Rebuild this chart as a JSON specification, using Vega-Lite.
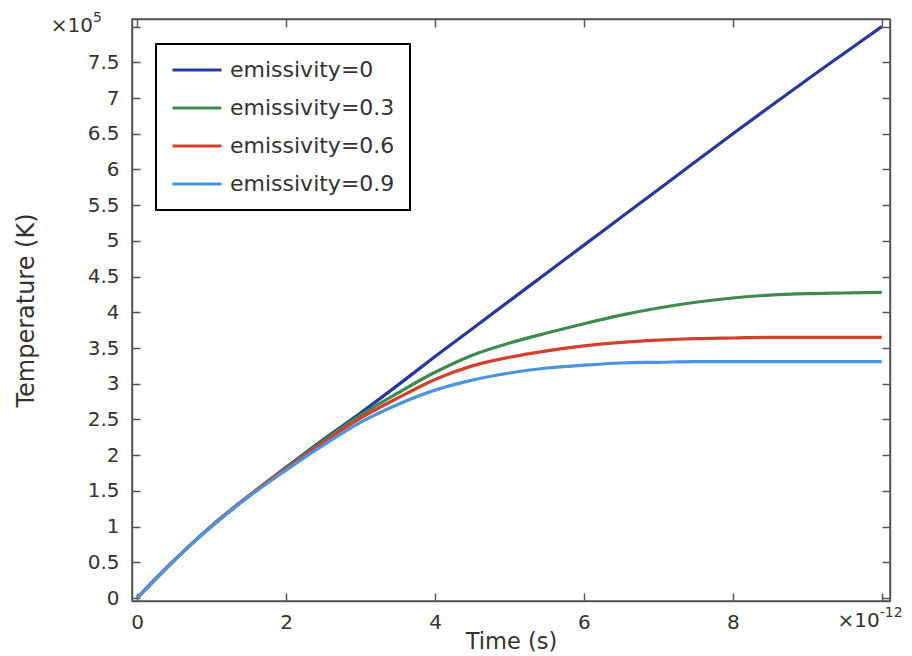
{
  "$schema": "https://vega.github.io/schema/vega-lite/v6.json",
  "width": 758,
  "height": 582,
  "autosize": {"type": "none"},
  "padding": {"left": 132, "top": 19, "right": 22, "bottom": 55},
  "background": "white",
  "config": {
    "font": "DejaVu Sans",
    "view": {"stroke": "#555", "strokeWidth": 1.5},
    "axis": {
      "domainColor": "#555", "domainWidth": 1.5, "tickColor": "#555", "tickWidth": 1.5,
      "labelFontSize": 20, "labelColor": "#333", "grid": false,
      "titleFontSize": 22, "titleFontWeight": "normal", "titleColor": "#333"
    },
    "legend": {"strokeWidth": 2}
  },
  "datasets": {
    "curves": [
      {"t": 0, "s": "emissivity=0", "T": 0}, {"t": 0.25, "s": "emissivity=0", "T": 0.27}, {"t": 0.5, "s": "emissivity=0", "T": 0.53}, {"t": 1, "s": "emissivity=0", "T": 1.01}, {"t": 1.5, "s": "emissivity=0", "T": 1.43}, {"t": 2, "s": "emissivity=0", "T": 1.83}, {"t": 2.5, "s": "emissivity=0", "T": 2.22}, {"t": 3, "s": "emissivity=0", "T": 2.59}, {"t": 3.5, "s": "emissivity=0", "T": 2.98}, {"t": 4, "s": "emissivity=0", "T": 3.38}, {"t": 4.5, "s": "emissivity=0", "T": 3.77}, {"t": 5, "s": "emissivity=0", "T": 4.16}, {"t": 5.5, "s": "emissivity=0", "T": 4.55}, {"t": 6, "s": "emissivity=0", "T": 4.94}, {"t": 6.5, "s": "emissivity=0", "T": 5.33}, {"t": 7, "s": "emissivity=0", "T": 5.72}, {"t": 7.5, "s": "emissivity=0", "T": 6.11}, {"t": 8, "s": "emissivity=0", "T": 6.5}, {"t": 8.5, "s": "emissivity=0", "T": 6.88}, {"t": 9, "s": "emissivity=0", "T": 7.26}, {"t": 9.5, "s": "emissivity=0", "T": 7.63}, {"t": 10, "s": "emissivity=0", "T": 8.0},
      {"t": 0, "s": "emissivity=0.3", "T": 0}, {"t": 0.25, "s": "emissivity=0.3", "T": 0.27}, {"t": 0.5, "s": "emissivity=0.3", "T": 0.53}, {"t": 1, "s": "emissivity=0.3", "T": 1.01}, {"t": 1.5, "s": "emissivity=0.3", "T": 1.43}, {"t": 2, "s": "emissivity=0.3", "T": 1.82}, {"t": 2.5, "s": "emissivity=0.3", "T": 2.2}, {"t": 3, "s": "emissivity=0.3", "T": 2.56}, {"t": 3.5, "s": "emissivity=0.3", "T": 2.87}, {"t": 4, "s": "emissivity=0.3", "T": 3.16}, {"t": 4.5, "s": "emissivity=0.3", "T": 3.4}, {"t": 5, "s": "emissivity=0.3", "T": 3.57}, {"t": 5.5, "s": "emissivity=0.3", "T": 3.71}, {"t": 6, "s": "emissivity=0.3", "T": 3.84}, {"t": 6.5, "s": "emissivity=0.3", "T": 3.96}, {"t": 7, "s": "emissivity=0.3", "T": 4.06}, {"t": 7.5, "s": "emissivity=0.3", "T": 4.14}, {"t": 8, "s": "emissivity=0.3", "T": 4.2}, {"t": 8.5, "s": "emissivity=0.3", "T": 4.24}, {"t": 9, "s": "emissivity=0.3", "T": 4.26}, {"t": 9.5, "s": "emissivity=0.3", "T": 4.27}, {"t": 10, "s": "emissivity=0.3", "T": 4.28},
      {"t": 0, "s": "emissivity=0.6", "T": 0}, {"t": 0.25, "s": "emissivity=0.6", "T": 0.27}, {"t": 0.5, "s": "emissivity=0.6", "T": 0.53}, {"t": 1, "s": "emissivity=0.6", "T": 1.01}, {"t": 1.5, "s": "emissivity=0.6", "T": 1.43}, {"t": 2, "s": "emissivity=0.6", "T": 1.81}, {"t": 2.5, "s": "emissivity=0.6", "T": 2.18}, {"t": 3, "s": "emissivity=0.6", "T": 2.52}, {"t": 3.5, "s": "emissivity=0.6", "T": 2.8}, {"t": 4, "s": "emissivity=0.6", "T": 3.06}, {"t": 4.5, "s": "emissivity=0.6", "T": 3.25}, {"t": 5, "s": "emissivity=0.6", "T": 3.37}, {"t": 5.5, "s": "emissivity=0.6", "T": 3.46}, {"t": 6, "s": "emissivity=0.6", "T": 3.53}, {"t": 6.5, "s": "emissivity=0.6", "T": 3.58}, {"t": 7, "s": "emissivity=0.6", "T": 3.61}, {"t": 7.5, "s": "emissivity=0.6", "T": 3.63}, {"t": 8, "s": "emissivity=0.6", "T": 3.64}, {"t": 8.5, "s": "emissivity=0.6", "T": 3.65}, {"t": 9, "s": "emissivity=0.6", "T": 3.65}, {"t": 9.5, "s": "emissivity=0.6", "T": 3.65}, {"t": 10, "s": "emissivity=0.6", "T": 3.65},
      {"t": 0, "s": "emissivity=0.9", "T": 0}, {"t": 0.25, "s": "emissivity=0.9", "T": 0.27}, {"t": 0.5, "s": "emissivity=0.9", "T": 0.53}, {"t": 1, "s": "emissivity=0.9", "T": 1.0}, {"t": 1.5, "s": "emissivity=0.9", "T": 1.42}, {"t": 2, "s": "emissivity=0.9", "T": 1.79}, {"t": 2.5, "s": "emissivity=0.9", "T": 2.14}, {"t": 3, "s": "emissivity=0.9", "T": 2.46}, {"t": 3.5, "s": "emissivity=0.9", "T": 2.71}, {"t": 4, "s": "emissivity=0.9", "T": 2.91}, {"t": 4.5, "s": "emissivity=0.9", "T": 3.05}, {"t": 5, "s": "emissivity=0.9", "T": 3.15}, {"t": 5.5, "s": "emissivity=0.9", "T": 3.22}, {"t": 6, "s": "emissivity=0.9", "T": 3.26}, {"t": 6.5, "s": "emissivity=0.9", "T": 3.29}, {"t": 7, "s": "emissivity=0.9", "T": 3.3}, {"t": 7.5, "s": "emissivity=0.9", "T": 3.31}, {"t": 8, "s": "emissivity=0.9", "T": 3.31}, {"t": 8.5, "s": "emissivity=0.9", "T": 3.31}, {"t": 9, "s": "emissivity=0.9", "T": 3.31}, {"t": 9.5, "s": "emissivity=0.9", "T": 3.31}, {"t": 10, "s": "emissivity=0.9", "T": 3.31}
    ],
    "notes": [
      {"label": "x"}
    ]
  },
  "layer": [
    {
      "data": {"name": "curves"},
      "mark": {"type": "line", "strokeWidth": 3.2, "clip": true, "interpolate": "monotone"},
      "encoding": {
        "x": {
          "field": "t", "type": "quantitative",
          "scale": {"domain": [-0.07, 10.11], "nice": false, "zero": false},
          "axis": {"orient": "bottom", "values": [0, 2, 4, 6, 8, 10], "labelExpr": "datum.value >= 10 ? '' : datum.label", "tickSize": -8, "labelPadding": 19, "title": "Time (s)", "titleFontSize": 22.5, "titleY": 47, "titleBaseline": "alphabetic"}
        },
        "y": {
          "field": "T", "type": "quantitative",
          "scale": {"domain": [-0.042, 8.106], "nice": false, "zero": false},
          "axis": {"orient": "left", "values": [0, 0.5, 1, 1.5, 2, 2.5, 3, 3.5, 4, 4.5, 5, 5.5, 6, 6.5, 7, 7.5, 8], "labelExpr": "datum.value >= 8 ? '' : format(datum.value, '~g')", "tickSize": -8, "labelPadding": 21, "title": "Temperature (K)", "titleFontSize": 24, "titleX": -99, "titleY": 291, "titleAngle": -90, "titleBaseline": "alphabetic", "titleAlign": "center"}
        },
        "color": {
          "field": "s", "type": "nominal",
          "scale": {"domain": ["emissivity=0", "emissivity=0.3", "emissivity=0.6", "emissivity=0.9"], "range": ["#26399c", "#3f8a4e", "#d4402e", "#4d94e0"]},
          "legend": {"orient": "none", "legendX": 24, "legendY": 25, "title": null, "symbolType": "stroke", "symbolStrokeWidth": 3, "symbolSize": 2400, "clipHeight": 22, "labelFontSize": 22, "labelColor": "#333", "labelOffset": 7, "labelLimit": 400, "strokeColor": "black", "fillColor": "white", "padding": 15, "rowPadding": 16}
        }
      }
    },
    {
      "data": {"name": "curves"},
      "mark": {"type": "line", "strokeOpacity": 0},
      "encoding": {
        "x": {
          "field": "t", "type": "quantitative",
          "scale": {"domain": [-0.07, 10.11], "nice": false, "zero": false},
          "axis": {"orient": "top", "values": [0, 2, 4, 6, 8, 10], "tickSize": -8, "labels": false, "title": null}
        },
        "y": {
          "field": "T", "type": "quantitative",
          "scale": {"domain": [-0.042, 8.106], "nice": false, "zero": false},
          "axis": {"orient": "right", "values": [0, 0.5, 1, 1.5, 2, 2.5, 3, 3.5, 4, 4.5, 5, 5.5, 6, 6.5, 7, 7.5, 8], "tickSize": -8, "labels": false, "title": null}
        },
        "detail": {"field": "s"}
      }
    },
    {
      "data": {"name": "notes"},
      "mark": {"type": "text", "fontSize": 20, "color": "#333", "align": "right", "baseline": "alphabetic", "dx": -39},
      "encoding": {
        "x": {"datum": -0.07, "type": "quantitative", "axis": null},
        "y": {"datum": 7.92, "type": "quantitative", "axis": null},
        "text": {"value": "×10"}
      }
    },
    {
      "data": {"name": "notes"},
      "mark": {"type": "text", "fontSize": 14, "color": "#333", "align": "left", "baseline": "alphabetic", "dx": -39},
      "encoding": {
        "x": {"datum": -0.07, "type": "quantitative", "axis": null},
        "y": {"datum": 8.06, "type": "quantitative", "axis": null},
        "text": {"value": "5"}
      }
    },
    {
      "data": {"name": "notes"},
      "mark": {"type": "text", "fontSize": 20, "color": "#333", "align": "right", "baseline": "alphabetic", "dx": -2},
      "encoding": {
        "x": {"datum": 10, "type": "quantitative", "axis": null},
        "y": {"datum": -0.406, "type": "quantitative", "axis": null},
        "text": {"value": "×10"}
      }
    },
    {
      "data": {"name": "notes"},
      "mark": {"type": "text", "fontSize": 14, "color": "#333", "align": "left", "baseline": "alphabetic", "dx": -2},
      "encoding": {
        "x": {"datum": 10, "type": "quantitative", "axis": null},
        "y": {"datum": -0.27, "type": "quantitative", "axis": null},
        "text": {"value": "-12"}
      }
    }
  ],
  "resolve": {"axis": {"x": "independent", "y": "independent"}}
}
